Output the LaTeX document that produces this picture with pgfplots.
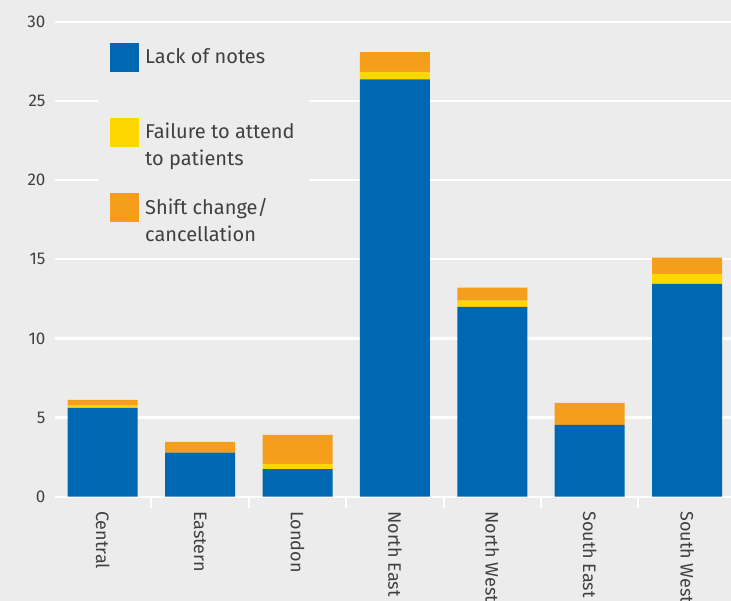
\documentclass[border=0pt]{standalone}
\usepackage{fontspec}
\setmainfont{Fira Sans}
\usepackage{pgfplots}
\pgfplotsset{compat=1.18}
\definecolor{bgc}{HTML}{ECECEC}
\definecolor{cblue}{HTML}{0068B3}
\definecolor{cyellow}{HTML}{FFD700}
\definecolor{corange}{HTML}{F59E1B}
\definecolor{txt}{HTML}{404040}
\newcommand{\lentry}[1]{\parbox[c][50pt][t]{152pt}{#1}}
\begin{document}
\begin{tikzpicture}
\fill[bgc] (0,0) rectangle (731pt,601pt);
\begin{axis}[
    at={(55pt,104.3pt)}, anchor=south west,
    scale only axis,
    width=700.3pt, height=474.7pt,
    xmin=-0.49, xmax=6.7, ymin=0, ymax=30,
    ybar stacked, bar width=70pt,
    axis line style={draw=none},
    ytick={0,5,...,30},
    ymajorgrids, grid style={white, line width=2.2pt},
    xtick={0,...,6},
    xticklabels={Central,Eastern,London,North East,North West,South East,South West},
    minor xtick={0.5,1.5,...,5.5},
    major tick length=0pt, minor tick length=11pt,
    tick align=outside, tick pos=left,
    minor tick style={white, line width=2pt},
    ticklabel style={font=\fontsize{17}{20}\selectfont, text=txt},
    /pgf/number format/assume math mode=true,
    xticklabel style={rotate=-90, anchor=west, font=\fontsize{18}{21}\selectfont},
    xticklabel shift=11pt,
    yticklabel shift=6pt,
    legend style={at={(0.0614,0.9663)}, anchor=north west,
        fill=bgc, draw=none, inner xsep=12pt, inner ysep=5pt,
        row sep=38pt, column sep=6pt,
        nodes={inner sep=0pt, text=txt},
        font=\fontsize{20}{27}\selectfont},
    legend cell align=left,
    legend image code/.code={\fill[#1] (0pt,21pt) rectangle (29pt,-8pt);},
]
\addplot[fill=cblue, draw=none] coordinates {(0,5.61) (1,2.78) (2,1.75) (3,26.37) (4,12.0) (5,4.54) (6,13.45)};
\addlegendentry{\lentry{Lack of notes}}
\addplot[fill=cyellow, draw=none] coordinates {(0,0.15) (1,0) (2,0.32) (3,0.47) (4,0.39) (5,0) (6,0.63)};
\addlegendentry{\lentry{Failure to attend\\to patients}}
\addplot[fill=corange, draw=none] coordinates {(0,0.36) (1,0.68) (2,1.83) (3,1.26) (4,0.82) (5,1.39) (6,1.03)};
\addlegendentry{\lentry{Shift change/\\cancellation}}
\end{axis}
\pgfresetboundingbox
\path[use as bounding box] (0,0) rectangle (731pt,601pt);
\end{tikzpicture}
\end{document}
